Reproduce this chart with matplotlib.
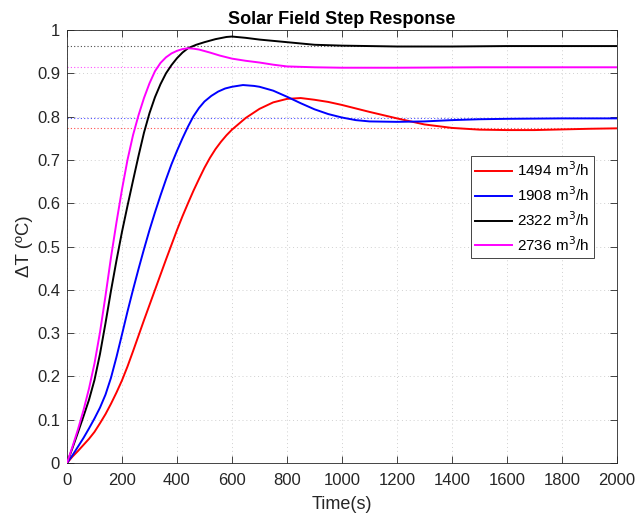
import matplotlib.pyplot as plt
import numpy as np

plt.rcParams['font.family'] = ['Liberation Sans', 'DejaVu Sans']

# step response samples, time in s, dT in degC
t_red = [0, 20, 40, 60, 80, 100, 120, 140, 160, 180, 200, 220, 240, 260, 280, 300, 320, 340, 360, 380,
         400, 420, 440, 460, 480, 500, 520, 540, 560, 580, 600, 650, 700, 750, 800, 850, 900, 950, 1000,
         1100, 1200, 1300, 1400, 1500, 1600, 1700, 1800, 1900, 2000]
v_red = [0, 0.015, 0.028, 0.042, 0.056, 0.072, 0.092, 0.113, 0.137, 0.163, 0.191, 0.223, 0.258, 0.294,
         0.33, 0.365, 0.4, 0.435, 0.47, 0.504, 0.538, 0.57, 0.6, 0.629, 0.656, 0.682, 0.705, 0.725, 0.742,
         0.757, 0.77, 0.797, 0.818, 0.833, 0.841, 0.843, 0.839, 0.834, 0.827, 0.811, 0.796, 0.782, 0.774,
         0.770, 0.769, 0.769, 0.7705, 0.772, 0.773]

t_blue = [0, 20, 40, 60, 80, 100, 120, 140, 160, 180, 200, 220, 240, 260, 280, 300, 320, 340, 360, 380,
          400, 420, 440, 460, 480, 500, 525, 550, 575, 600, 640, 680, 700, 750, 800, 850, 900, 950, 1000,
          1050, 1100, 1200, 1300, 1400, 1500, 1600, 1800, 2000]
v_blue = [0, 0.018, 0.038, 0.058, 0.08, 0.103, 0.128, 0.158, 0.197, 0.245, 0.297, 0.35, 0.4, 0.448, 0.494,
          0.538, 0.579, 0.618, 0.655, 0.69, 0.721, 0.75, 0.777, 0.801, 0.82, 0.835, 0.848, 0.858, 0.865,
          0.869, 0.873, 0.871, 0.869, 0.86, 0.846, 0.831, 0.817, 0.806, 0.798, 0.792, 0.789, 0.788, 0.789,
          0.792, 0.794, 0.795, 0.796, 0.796]

t_black = [0, 20, 40, 60, 80, 100, 120, 140, 160, 180, 200, 220, 240, 260, 280, 300, 320, 340, 360, 380,
           400, 420, 440, 470, 500, 540, 580, 600, 650, 700, 800, 900, 1000, 1100, 1200, 1400, 1600, 2000]
v_black = [0, 0.035, 0.071, 0.108, 0.146, 0.192, 0.252, 0.323, 0.398, 0.468, 0.534, 0.594, 0.652, 0.709, 0.763,
           0.808, 0.845, 0.875, 0.9, 0.919, 0.935, 0.948, 0.958, 0.966, 0.972, 0.979, 0.984, 0.985, 0.982,
           0.978, 0.972, 0.966, 0.964, 0.963, 0.962, 0.962, 0.963, 0.963]

t_mag = [0, 20, 40, 60, 80, 100, 120, 140, 160, 180, 200, 220, 240, 260, 280, 300, 320, 340, 360, 380,
         400, 420, 440, 460, 480, 520, 556, 600, 650, 700, 750, 800, 900, 1000, 1200, 1500, 2000]
v_mag = [0, 0.038, 0.078, 0.122, 0.172, 0.23, 0.302, 0.386, 0.475, 0.556, 0.632, 0.7, 0.757, 0.803, 0.843,
         0.877, 0.905, 0.924, 0.937, 0.946, 0.952, 0.956, 0.958, 0.957, 0.955, 0.948, 0.941, 0.934, 0.929,
         0.925, 0.92, 0.916, 0.914, 0.913, 0.913, 0.914, 0.914]

flows = ['1494', '1908', '2322', '2736']
final_values = [0.773, 0.796, 0.963, 0.914]
colors = ['#ff0000', '#0000ff', '#000000', '#ff00ff']

fig = plt.figure(figsize=(6.38, 5.18), dpi=100)
ax = fig.add_axes([0.105, 0.106, 0.862, 0.836])

series = [(t_red, v_red), (t_blue, v_blue), (t_black, v_black), (t_mag, v_mag)]
for (t, v), q, c in zip(series, flows, colors):
    ax.plot(t, v, color=c, lw=1.4, label=q + ' m$^3$/h', zorder=3)

# steady state levels
for yv, c in zip(final_values, colors):
    ax.axhline(yv, color=c, ls=(0, (1, 2)), lw=0.8, alpha=0.7, zorder=2)

ax.set_xlim(0, 2000)
ax.set_ylim(0, 1)
ax.set_xticks(np.arange(0, 2001, 200))
ax.set_yticks(np.arange(0, 1.01, 0.1))
ax.set_yticklabels(['0', '0.1', '0.2', '0.3', '0.4', '0.5', '0.6', '0.7', '0.8', '0.9', '1'])
ax.grid(True, color='#d0d0d0', ls=(0, (1, 3)), lw=0.7)
ax.tick_params(direction='in', top=True, right=True, length=5, width=0.6,
               labelsize=12, colors='#262626')
ax.tick_params(axis='x', pad=7)
ax.tick_params(axis='y', pad=5)
for s in ax.spines.values():
    s.set_color('#262626')
    s.set_linewidth(0.6)

ax.set_title('Solar Field Step Response', fontsize=13, fontweight='bold', pad=4)
ax.set_xlabel('Time(s)', fontsize=13, color='#262626', labelpad=6)
ax.set_ylabel('ΔT (ºC)', fontsize=13.5, color='#262626', labelpad=3)

leg = ax.legend(loc='upper right', bbox_to_anchor=(0.958, 0.709), fontsize=11, frameon=True,
                fancybox=False, framealpha=1, edgecolor='#262626', borderpad=0.3,
                handlelength=2.4, handletextpad=0.35, labelspacing=0.4, borderaxespad=0)
leg.get_frame().set_linewidth(0.6)

fig.savefig('out.png', dpi=100)
